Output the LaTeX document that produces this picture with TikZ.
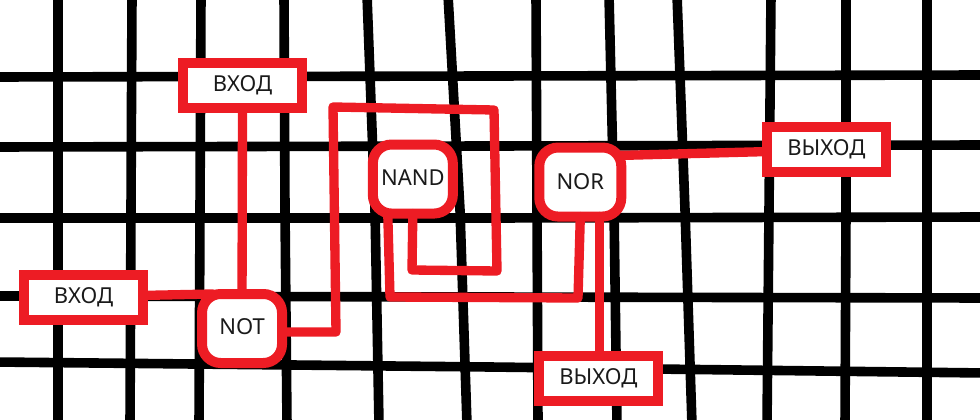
\documentclass[tikz,border=0pt]{standalone}
\usepackage{fontspec}
\setmainfont{Noto Sans}
\usepackage{xcolor}
\usepackage{tikz}
\usetikzlibrary{positioning}
\definecolor{wirered}{HTML}{ED1C24}
\definecolor{labelink}{HTML}{1A1A1A}
\tikzset{
    gridline/.style = {draw=black, line width=7.2pt},
    boxnode/.style = {draw=wirered, fill=white, rectangle, line width=7.5pt, inner sep = 0em, outer sep = 0em, 
      minimum width=89.25pt, minimum height=33.75pt, node distance=0em, text=labelink, 
      font=\fontsize{16.5}{18}\selectfont},
    gatenode/.style = {draw=wirered, fill=white, rectangle, rounded corners=14pt, line width=7.5pt, 
      inner sep = 0em, outer sep = 0em, minimum width=60pt, minimum height=51.75pt, node distance=0em, text=labelink, 
      font=\fontsize{16.5}{18}\selectfont},
    connect/.style = {draw=wirered, line width=7pt, line join=round, line cap=round}
}

\begin{document}
\begin{tikzpicture}[x=0.75pt, y=-0.75pt]
    \useasboundingbox (0,0) rectangle (980,420);

    \foreach \xa/\xb/\xc/\ya in {58/58/58/210, 132/131/130/210, 201/200/199/210, 284/285/287/210, 
        367/375/379/210, 448/460/467/210, 536/537/538/210, 609/614/617/210, 677/685/692/210, 
        771/769/767/210, 846/846/845/210, 927/927/927/210}
        \draw [gridline] (\xa,-5) -- (\xb,\ya) -- (\xc,425);
    \foreach \ya/\yb/\yc in {77/76/75, 147/146/145, 218/218/217, 296/297/298, 362/367/373}
        \draw [gridline] (-5,\ya) -- (490,\yb) -- (985,\yc);

    \node [name=vhodb, boxnode] at (83.5,297.5) {ВХОД};
    \node [name=vhoda, boxnode, right of = vhodb, xshift=119.25pt, yshift=159pt] {ВХОД};
    \node [name=notgate, gatenode, right of = vhodb, xshift=118.9pt, yshift=-23.25pt] {\raisebox{3.5pt}{NOT}};
    \node [name=nandgate, gatenode, right of = notgate, xshift=128.1pt, yshift=112.1pt] {\raisebox{1.5pt}{NAND}};
    \node [name=norgate, gatenode, minimum width=61.5pt, right of = nandgate, xshift=125.6pt, yshift=-2.25pt] {NOR};
    \node [name=vyhoda, boxnode, right of = norgate, xshift=184.5pt, yshift=24.4pt] {ВЫХОД};
    \node [name=vyhodb, boxnode, right of = norgate, xshift=13.5pt, yshift=-147.4pt] {ВЫХОД};

    \draw [connect] (vhoda.south) -- (notgate.north);
    \draw [connect] (vhodb.2) -- (notgate.130);
    \draw [connect] (notgate.-5) -- (336,332) -- (333,107) -- (494,110) -- (497,271) -- (412,270) -- (nandgate.south);
    \draw [connect] (nandgate.234) -- (390,297) -- (578,298) -- (norgate.south);
    \draw [connect] (norgate.33) -- (vyhoda.182);
    \draw [connect] (norgate.-61) -- (vyhodb.north -| norgate.-61);
\end{tikzpicture}
\end{document}
